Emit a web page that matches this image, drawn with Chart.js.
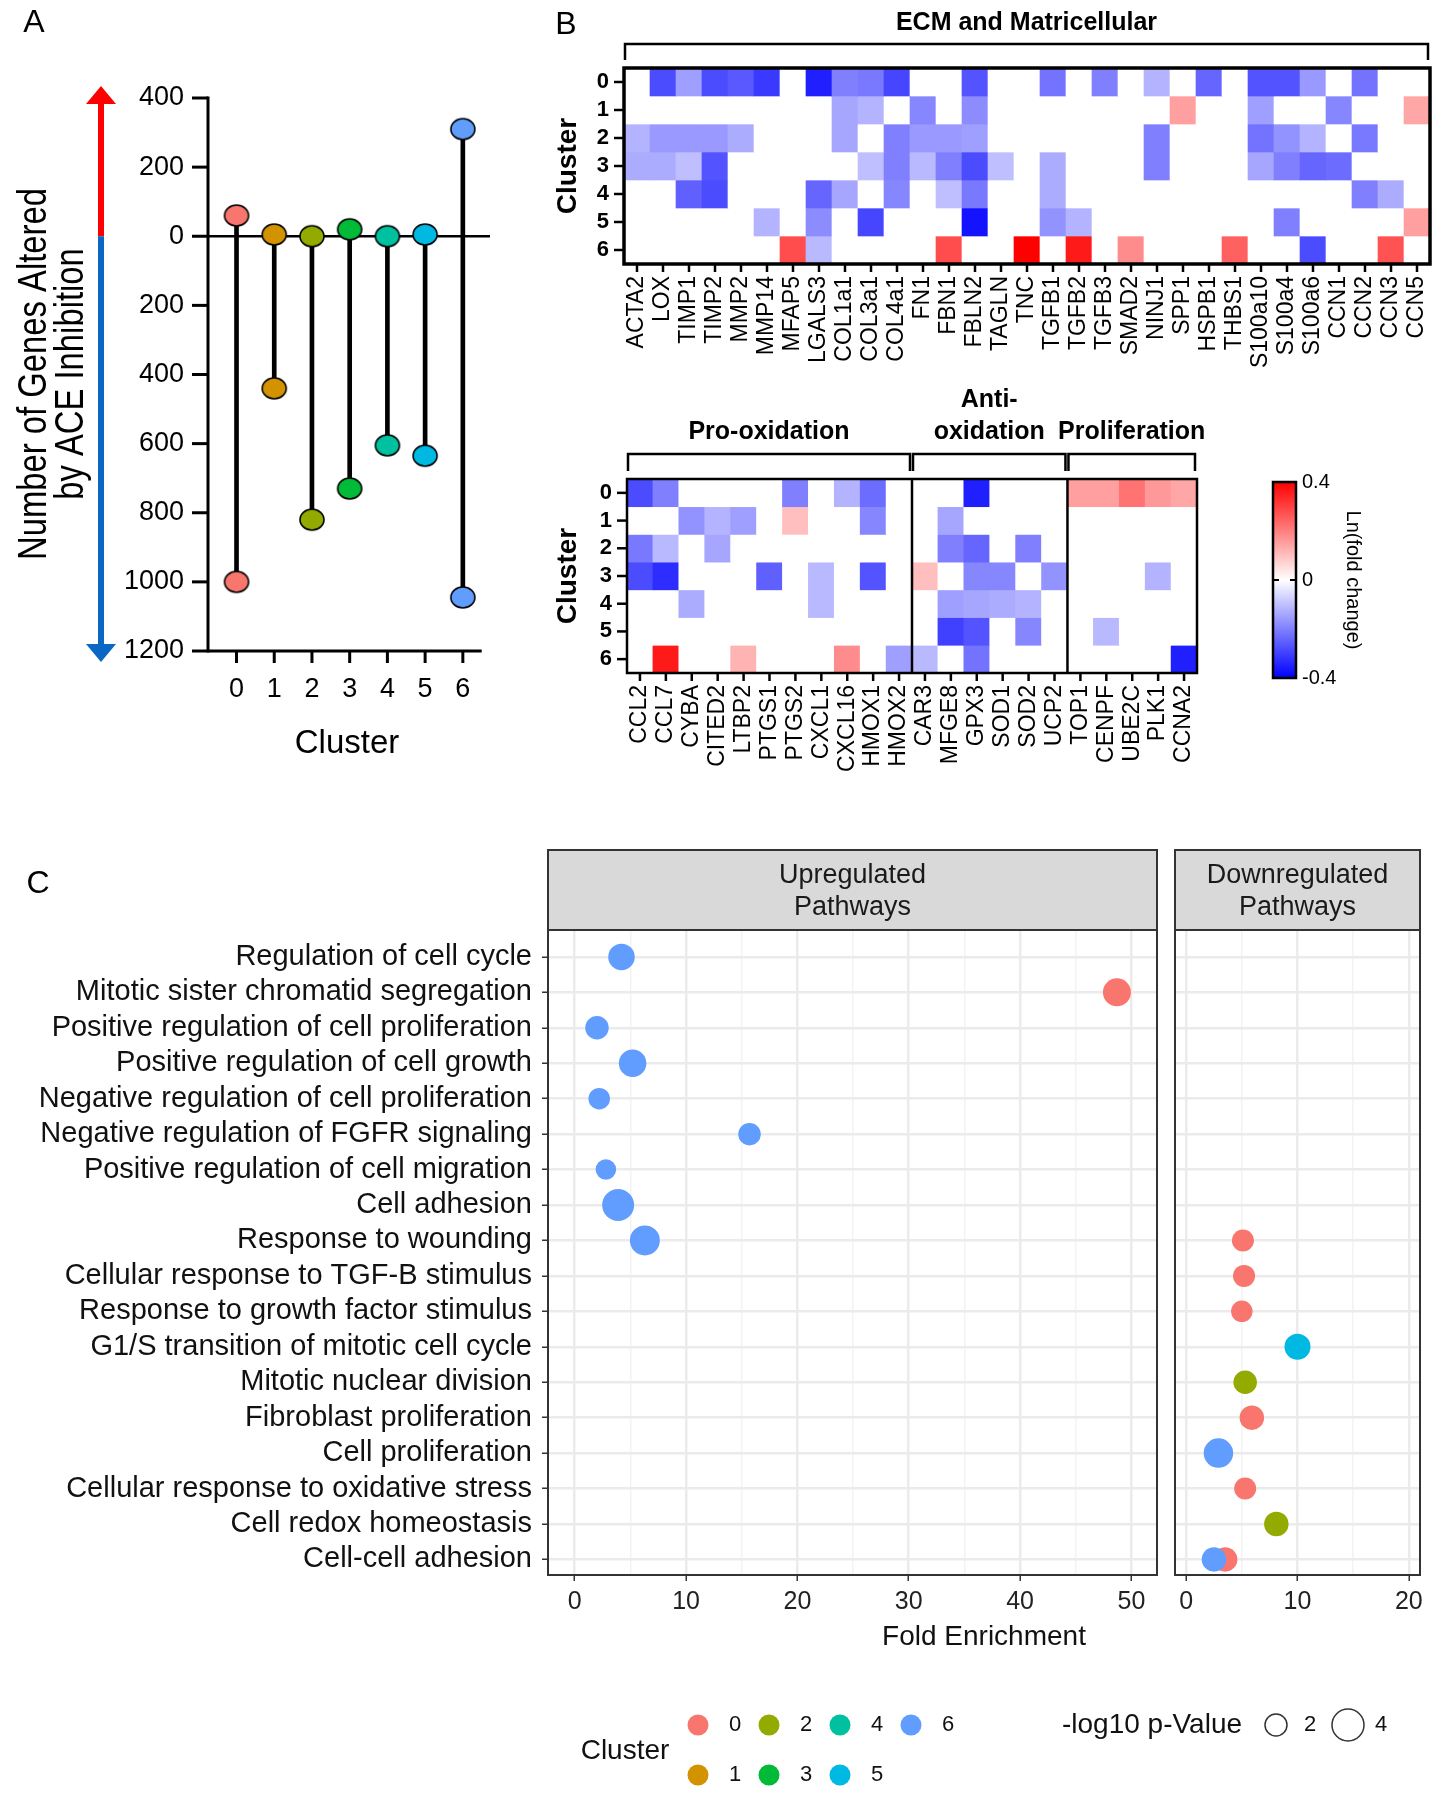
<!DOCTYPE html>
<html><head><meta charset="utf-8">
<script src="https://cdn.jsdelivr.net/npm/chart.js@4.4.1/dist/chart.umd.min.js"></script>
<style>
html,body{margin:0;padding:0;background:#fff;}
body{width:1448px;height:1800px;position:relative;overflow:hidden;}
canvas{position:absolute;}
</style></head><body>
<canvas id="cA" width="530" height="790" style="left:0px;top:0px;width:530px;height:790px"></canvas>
<canvas id="cB1" width="908" height="390" style="left:540px;top:0px;width:908px;height:390px"></canvas>
<canvas id="cB2" width="700" height="400" style="left:540px;top:380px;width:700px;height:400px"></canvas>
<canvas id="cCB" width="208" height="290" style="left:1240px;top:440px;width:208px;height:290px"></canvas>
<canvas id="cC1" width="1448" height="960" style="left:0px;top:840px;width:1448px;height:960px"></canvas>
<canvas id="cC2" width="283" height="830" style="left:1165px;top:840px;width:283px;height:830px"></canvas>
<script>
// ---------------- DATA ----------------
const clusterLabels = ['0','1','2','3','4','5','6'];
const clusterColors = ['#F8766D','#D39200','#93AA00','#00BA38','#00C19F','#00B9E3','#619CFF'];

// Panel A: number of genes up / down per cluster
const genesUp   = [60, 5, 0, 20, 0, 5, 310];
const genesDown = [1000, 440, 820, 730, 605, 635, 1045];
const aTicks = [400, 200, 0, -200, -400, -600, -800, -1000, -1200];

// Panel B top heatmap
const ecmGenes = ['ACTA2','LOX','TIMP1','TIMP2','MMP2','MMP14','MFAP5','LGALS3','COL1a1','COL3a1','COL4a1','FN1','FBN1','FBLN2','TAGLN','TNC','TGFB1','TGFB2','TGFB3','SMAD2','NINJ1','SPP1','HSPB1','THBS1','S100a10','S100a4','S100a6','CCN1','CCN2','CCN3','CCN5'];
const ecmRow0 = [0,-0.28,-0.15,-0.28,-0.26,-0.31,0,-0.35,-0.2,-0.21,-0.29,0,0,-0.27,0,0,-0.22,0,-0.2,0,-0.12,0,-0.24,0,-0.27,-0.27,-0.16,0,-0.22,0,0];
const ecmRow1 = [0,0,0,0,0,0,0,0,-0.14,-0.12,0,-0.19,0,-0.18,0,0,0,0,0,0,0,0.15,0,0,-0.15,0,0,-0.19,0,0,0.14];
const ecmRow2 = [-0.12,-0.16,-0.16,-0.16,-0.13,0,0,0,-0.14,0,-0.2,-0.16,-0.16,-0.15,0,0,0,0,0,0,-0.2,0,0,0,-0.22,-0.17,-0.12,0,-0.21,0,0];
const ecmRow3 = [-0.13,-0.13,-0.1,-0.27,0,0,0,0,0,-0.1,-0.2,-0.11,-0.2,-0.28,-0.1,0,-0.13,0,0,0,-0.2,0,0,0,-0.14,-0.2,-0.24,-0.23,0,0,0];
const ecmRow4 = [0,0,-0.25,-0.28,0,0,0,-0.24,-0.14,0,-0.19,0,-0.1,-0.21,0,0,-0.13,0,0,0,0,0,0,0,0,0,0,0,-0.2,-0.13,0];
const ecmRow5 = [0,0,0,0,0,-0.12,0,-0.18,0,-0.29,0,0,0,-0.37,0,0,-0.17,-0.12,0,0,0,0,0,0,0,-0.2,0,0,0,0,0.15];
const ecmRow6 = [0,0,0,0,0,0,0.28,-0.11,0,0,0,0,0.28,0,0,0.4,0,0.36,0,0.18,0,0,0,0.25,0,0,-0.28,0,0,0.27,0];
const ecmValues = [ecmRow0, ecmRow1, ecmRow2, ecmRow3, ecmRow4, ecmRow5, ecmRow6];

// Panel B bottom heatmap
const proGenes = ['CCL2','CCL7','CYBA','CITED2','LTBP2','PTGS1','PTGS2','CXCL1','CXCL16','HMOX1','HMOX2'];
const antiGenes = ['CAR3','MFGE8','GPX3','SOD1','SOD2','UCP2'];
const prolifGenes = ['TOP1','CENPF','UBE2C','PLK1','CCNA2'];
const oxRow0 = [-0.28,-0.2,0,0,0,0,-0.2,0,-0.12,-0.23,0, 0,0,-0.35,0,0,0, 0.15,0.15,0.22,0.16,0.14];
const oxRow1 = [0,0,-0.17,-0.12,-0.15,0,0.1,0,0,-0.19,0, 0,-0.14,0,0,0,0, 0,0,0,0,0];
const oxRow2 = [-0.21,-0.11,0,-0.14,0,0,0,0,0,0,0, 0,-0.2,-0.24,0,-0.2,0, 0,0,0,0,0];
const oxRow3 = [-0.28,-0.33,0,0,0,-0.25,0,-0.11,0,-0.27,0, 0.1,0,-0.19,-0.19,0,-0.17, 0,0,0,-0.12,0];
const oxRow4 = [0,0,-0.13,0,0,0,0,-0.11,0,0,0, 0,-0.15,-0.14,-0.13,-0.12,0, 0,0,0,0,0];
const oxRow5 = [0,0,0,0,0,0,0,0,0,0,0, 0,-0.3,-0.27,0,-0.19,0, 0,-0.11,0,0,0];
const oxRow6 = [0,0.36,0,0,0.12,0,0,0,0.18,0,-0.15, -0.11,0,-0.22,0,0,0, 0,0,0,0,-0.35];
const oxValues = [oxRow0, oxRow1, oxRow2, oxRow3, oxRow4, oxRow5, oxRow6];

const cbRange = [-0.4, 0.4];
const cbTicks = [-0.4, 0, 0.4];

// Panel C
const pathways = ['Regulation of cell cycle','Mitotic sister chromatid segregation','Positive regulation of cell proliferation','Positive regulation of cell growth','Negative regulation of cell proliferation','Negative regulation of FGFR signaling','Positive regulation of cell migration','Cell adhesion','Response to wounding','Cellular response to TGF-B stimulus','Response to growth factor stimulus','G1/S transition of mitotic cell cycle','Mitotic nuclear division','Fibroblast proliferation','Cell proliferation','Cellular response to oxidative stress','Cell redox homeostasis','Cell-cell adhesion'];
const upPathway = ['Regulation of cell cycle','Mitotic sister chromatid segregation','Positive regulation of cell proliferation','Positive regulation of cell growth','Negative regulation of cell proliferation','Negative regulation of FGFR signaling','Positive regulation of cell migration','Cell adhesion','Response to wounding'];
const upFold    = [4.2, 48.7, 2.0, 5.2, 2.2, 15.7, 2.8, 3.9, 6.3];
const upCluster = [6, 0, 6, 6, 6, 6, 6, 6, 6];
const upLogP    = [2.9, 3.2, 2.3, 3.1, 1.9, 2.1, 1.7, 4.0, 3.6];
const downPathway = ['Response to wounding','Cellular response to TGF-B stimulus','Response to growth factor stimulus','G1/S transition of mitotic cell cycle','Mitotic nuclear division','Fibroblast proliferation','Cell proliferation','Cellular response to oxidative stress','Cell redox homeostasis','Cell-cell adhesion','Cell-cell adhesion'];
const downFold    = [5.1, 5.2, 5.0, 10.0, 5.3, 5.9, 2.9, 5.3, 8.1, 3.5, 2.5];
const downCluster = [0, 0, 0, 5, 2, 0, 6, 0, 2, 0, 6];
const downLogP    = [2.0, 2.0, 1.9, 2.8, 2.3, 2.5, 3.5, 2.0, 2.5, 2.5, 2.5];
const sizeBreaks = [2, 4];
const upTicks = [0,5,10,15,20,25,30,35,40,45,50];
const downTicks = [0,5,10,15,20];

// ---------------- HELPERS ----------------
const FONT = "'Liberation Sans', Arial, Helvetica, sans-serif";
Chart.defaults.font.family = FONT;
Chart.defaults.color = '#000';
Chart.defaults.animation = false;
Chart.defaults.plugins.legend.display = false;
Chart.defaults.plugins.tooltip.enabled = false;

function line(ctx, x1, y1, x2, y2){ ctx.beginPath(); ctx.moveTo(x1,y1); ctx.lineTo(x2,y2); ctx.stroke(); }
function rad(p){ return 6 + 2.5 * p; }
function fixX(h){ return s => { s.height = h; s.paddingLeft = 0; s.paddingRight = 0; }; }
function heatColor(v){
  const t = Math.min(1, Math.abs(v) / 0.4);
  const k = Math.round(255 * (1 - t));
  if (v < 0) return 'rgb(' + k + ',' + k + ',255)';
  if (v > 0) return 'rgb(255,' + k + ',' + k + ')';
  return '#ffffff';
}
function heatDatasets(rows){
  return rows.map((vals, r) => ({
    type: 'bar', data: vals.map(() => [r - 0.5, r + 0.5]),
    backgroundColor: vals.map(heatColor), grouped: false,
    barPercentage: 1, categoryPercentage: 1, borderWidth: 0
  }));
}
function ellipseImg(color){
  const w = 24, h = 21;
  const c = document.createElement('canvas'); c.width = w + 4; c.height = h + 4;
  const x = c.getContext('2d');
  x.beginPath(); x.ellipse(c.width/2, c.height/2, w/2, h/2, 0, 0, Math.PI*2);
  x.fillStyle = color; x.fill(); x.lineWidth = 1.6; x.strokeStyle = '#000'; x.stroke();
  return c;
}

// ---------------- PANEL A ----------------
const aImgs = clusterColors.map(ellipseImg);
const plugA = {
  id: 'plugA',
  beforeDatasetsDraw(chart){
    const {ctx, chartArea: a, scales: {y}} = chart;
    const y0 = y.getPixelForValue(0);
    ctx.save(); ctx.strokeStyle = '#000'; ctx.lineWidth = 2.5;
    line(ctx, a.left, y0, a.right, y0); ctx.restore();
  },
  afterDraw(chart){
    const {ctx, chartArea: a, scales: {x, y}} = chart;
    ctx.save();
    ctx.strokeStyle = '#000'; ctx.lineWidth = 3;
    line(ctx, a.left, a.top - 1.5, a.left, a.bottom + 1.5);
    line(ctx, a.left, a.bottom, x.getPixelForValue(6.5), a.bottom);
    aTicks.forEach(v => { const py = y.getPixelForValue(v); line(ctx, a.left - 16, py, a.left, py); });
    clusterLabels.forEach((c, i) => { const px = x.getPixelForValue(i); line(ctx, px, a.bottom, px, a.bottom + 12); });
    // arrow
    const ax = 101, y0 = y.getPixelForValue(0), yt = a.top - 12, yb = a.bottom + 11;
    ctx.lineWidth = 6;
    ctx.strokeStyle = '#ff0000'; line(ctx, ax, yt + 14, ax, y0);
    ctx.fillStyle = '#ff0000'; ctx.beginPath(); ctx.moveTo(ax, yt); ctx.lineTo(ax - 15, yt + 18); ctx.lineTo(ax + 15, yt + 18); ctx.closePath(); ctx.fill();
    ctx.strokeStyle = '#0a68c4'; line(ctx, ax, y0, ax, yb - 14);
    ctx.fillStyle = '#0a68c4'; ctx.beginPath(); ctx.moveTo(ax, yb); ctx.lineTo(ax - 15, yb - 18); ctx.lineTo(ax + 15, yb - 18); ctx.closePath(); ctx.fill();
    // titles
    ctx.fillStyle = '#000'; ctx.textAlign = 'center'; ctx.textBaseline = 'alphabetic';
    [['Number of Genes Altered', 46], ['by ACE Inhibition', 83]].forEach(([t, bx]) => {
      ctx.save(); ctx.translate(bx, 374); ctx.rotate(-Math.PI/2); ctx.scale(0.82, 1);
      ctx.font = '40px ' + FONT; ctx.fillText(t, 0, 0); ctx.restore();
    });
    ctx.textBaseline = 'middle';
    ctx.font = '33px ' + FONT; ctx.fillText('Cluster', 347, 744);
    ctx.font = '32px ' + FONT; ctx.fillText('A', 34, 23);
    ctx.restore();
  }
};
new Chart(document.getElementById('cA'), {
  data: {
    datasets: [
      { type: 'bar', data: clusterLabels.map((c, i) => ({x: i, y: [-genesDown[i], genesUp[i]]})),
        backgroundColor: '#000', barThickness: 4, order: 2 },
      { type: 'scatter', data: clusterLabels.map((c, i) => ({x: i, y: genesUp[i]})),
        pointStyle: aImgs, pointRadius: 10, order: 1 },
      { type: 'scatter', data: clusterLabels.map((c, i) => ({x: i, y: -genesDown[i]})),
        pointStyle: aImgs, pointRadius: 10, order: 1 }
    ]
  },
  options: {
    responsive: false,
    layout: {padding: {left: 0, right: 40, top: 98, bottom: 0}, autoPadding: false},
    scales: {
      x: { type: 'linear', min: -0.756, max: 6.72, offset: false,
        afterBuildTicks: s => { s.ticks = clusterLabels.map((c, i) => ({value: i})); },
        ticks: { callback: v => clusterLabels[v], font: {size: 27}, padding: 22, autoSkip: false, maxRotation: 0 },
        grid: {display: false, drawTicks: false, offset: false}, border: {display: false},
        afterFit: fixX(139) },
      y: { type: 'linear', min: -1200, max: 400,
        afterBuildTicks: s => { s.ticks = aTicks.map(v => ({value: v})); },
        ticks: { callback: v => String(Math.abs(v)), font: {size: 27}, padding: 24, autoSkip: false },
        grid: {display: false, drawTicks: false}, border: {display: false},
        afterFit: s => { s.width = 208; } }
    }
  },
  plugins: [plugA]
});

// ---------------- PANEL B ----------------
function heatPlugin(cfg){
  return {
    id: 'heat' + cfg.id,
    afterDraw(chart){
      const {ctx, chartArea: a, scales: {x, y}} = chart;
      const n = x.getLabels().length;
      const w = (a.right - a.left) / n;
      ctx.save(); ctx.strokeStyle = '#000'; ctx.fillStyle = '#000';
      ctx.lineWidth = 2.5;
      for (let j = 0; j < n; j++){ const px = x.getPixelForValue(j); line(ctx, px, a.bottom, px, a.bottom + 8); }
      clusterLabels.forEach((c, r) => { const py = y.getPixelForValue(r); line(ctx, a.left - 10, py, a.left, py); });
      cfg.groups.forEach((g, gi) => { if (gi > 0){ const px = a.left + g.start * w; line(ctx, px, a.top, px, a.bottom); } });
      ctx.lineWidth = cfg.border;
      ctx.strokeRect(a.left, a.top, a.right - a.left, a.bottom - a.top);
      ctx.lineWidth = 2.5;
      ctx.textAlign = 'center'; ctx.textBaseline = 'middle';
      ctx.font = 'bold 25px ' + FONT;
      cfg.groups.forEach(g => {
        const x1 = a.left + g.start * w + 1, x2 = a.left + g.end * w - 2;
        ctx.beginPath(); ctx.moveTo(x1, cfg.tickBottom); ctx.lineTo(x1, cfg.bracketY); ctx.lineTo(x2, cfg.bracketY); ctx.lineTo(x2, cfg.tickBottom); ctx.stroke();
        const cx = (x1 + x2) / 2;
        g.name.forEach((t, k) => { ctx.fillText(t, cx, cfg.titleY - (g.name.length - 1 - k) * 32); });
      });
      ctx.save(); ctx.translate(28, (a.top + a.bottom) / 2); ctx.rotate(-Math.PI/2);
      ctx.font = 'bold 28px ' + FONT; ctx.fillText('Cluster', 0, 0); ctx.restore();
      if (cfg.letter){ ctx.font = '32px ' + FONT; ctx.fillText(cfg.letter, 26, 25); }
      ctx.restore();
    }
  };
}
function heatOptions(padding, xHeight, yWidth){
  return {
    responsive: false,
    layout: {padding: padding, autoPadding: false},
    scales: {
      x: { type: 'category', offset: true,
        ticks: {autoSkip: false, minRotation: 90, maxRotation: 90, font: {size: 23}, padding: 12},
        grid: {display: false, drawTicks: false}, border: {display: false},
        afterFit: fixX(xHeight) },
      y: { type: 'linear', min: -0.5, max: 6.5, reverse: true,
        afterBuildTicks: s => { s.ticks = clusterLabels.map((c, i) => ({value: i})); },
        ticks: {callback: v => clusterLabels[v], font: {size: 22, weight: 'bold'}, padding: 15, autoSkip: false},
        grid: {display: false, drawTicks: false}, border: {display: false},
        afterFit: s => { s.width = yWidth; s.paddingTop = 0; s.paddingBottom = 0; } }
    }
  };
}
new Chart(document.getElementById('cB1'), {
  data: { labels: ecmGenes, datasets: heatDatasets(ecmValues) },
  options: heatOptions({left: 0, right: 18, top: 68, bottom: 0}, 126, 84),
  plugins: [heatPlugin({id: 1, border: 3.5, bracketY: 44, tickBottom: 60, titleY: 23, letter: 'B',
    groups: [{name: ['ECM and Matricellular'], start: 0, end: ecmGenes.length}]})]
});
const oxGenes = proGenes.concat(antiGenes, prolifGenes);
new Chart(document.getElementById('cB2'), {
  data: { labels: oxGenes, datasets: heatDatasets(oxValues) },
  options: heatOptions({left: 0, right: 43, top: 99, bottom: 0}, 107, 87),
  plugins: [heatPlugin({id: 2, border: 2.5, bracketY: 74, tickBottom: 91, titleY: 52, letter: null,
    groups: [
      {name: ['Pro-oxidation'], start: 0, end: proGenes.length},
      {name: ['Anti-', 'oxidation'], start: proGenes.length, end: proGenes.length + antiGenes.length},
      {name: ['Proliferation'], start: proGenes.length + antiGenes.length, end: oxGenes.length}
    ]})]
});

// colour bar
const plugCB = {
  id: 'plugCB',
  afterDraw(chart){
    const {ctx, chartArea: a, scales: {y}} = chart;
    ctx.save(); ctx.strokeStyle = '#000';
    const y0 = y.getPixelForValue(0);
    ctx.lineWidth = 2;
    line(ctx, a.left, y0, a.left + 6, y0); line(ctx, a.right - 6, y0, a.right, y0);
    ctx.lineWidth = 2.5;
    ctx.strokeRect(a.left, a.top, a.right - a.left, a.bottom - a.top);
    ctx.fillStyle = '#000'; ctx.textAlign = 'center'; ctx.textBaseline = 'middle';
    ctx.translate(113, 140); ctx.rotate(Math.PI/2);
    ctx.font = '20px ' + FONT; ctx.fillText('Ln(fold change)', 0, 0);
    ctx.restore();
  }
};
new Chart(document.getElementById('cCB'), {
  type: 'bar',
  data: { labels: ['Ln(fold change)'], datasets: [{
    data: [cbRange], barPercentage: 1, categoryPercentage: 1, borderWidth: 0,
    backgroundColor: (c) => {
      const ch = c.chart; const ys = ch.scales.y;
      if (!ch.chartArea || !ys) return '#fff';
      const g = ch.ctx.createLinearGradient(0, ys.getPixelForValue(cbRange[0]), 0, ys.getPixelForValue(cbRange[1]));
      g.addColorStop(0, '#0000ff'); g.addColorStop(0.5, '#ffffff'); g.addColorStop(1, '#ff0000');
      return g;
    }
  }]},
  options: {
    responsive: false,
    layout: {padding: {left: 33, right: 0, top: 42, bottom: 52}, autoPadding: false},
    scales: {
      x: {display: false},
      y: { position: 'right', min: cbRange[0], max: cbRange[1],
        afterBuildTicks: s => { s.ticks = cbTicks.map(v => ({value: v})); },
        ticks: {callback: v => (v === 0 ? '0' : v.toFixed(1)), font: {size: 20}, padding: 6},
        grid: {display: false, drawTicks: false}, border: {display: false},
        afterFit: s => { s.width = 152; s.paddingTop = 0; s.paddingBottom = 0; } }
    }
  },
  plugins: [plugCB]
});

// ---------------- PANEL C ----------------
function dotDatasets(names, fold, cl, lp){
  const ds = [];
  clusterLabels.forEach((c, ci) => {
    const pts = [];
    names.forEach((nm, i) => { if (cl[i] === ci) pts.push({x: fold[i], y: pathways.indexOf(nm), p: lp[i]}); });
    if (pts.length) ds.push({ type: 'scatter', data: pts, order: 6 - ci,
      backgroundColor: clusterColors[ci], borderWidth: 0,
      pointRadius: (ctx) => (ctx.raw ? rad(ctx.raw.p) : 0) });
  });
  return ds;
}
const stripTitles = [['Upregulated', 'Pathways'], ['Downregulated', 'Pathways']];
function drawStrip(ctx, a, lines){
  ctx.fillStyle = '#d9d9d9'; ctx.fillRect(a.left, 10, a.right - a.left, 80);
  ctx.strokeStyle = '#333'; ctx.lineWidth = 2; ctx.strokeRect(a.left, 10, a.right - a.left, 80);
  ctx.strokeRect(a.left, a.top, a.right - a.left, a.bottom - a.top);
  ctx.fillStyle = '#1a1a1a'; ctx.font = '27px ' + FONT; ctx.textAlign = 'center'; ctx.textBaseline = 'middle';
  ctx.fillText(lines[0], (a.left + a.right) / 2, 36);
  ctx.fillText(lines[1], (a.left + a.right) / 2, 68);
}
function xGrid(ctx){ return ctx.tick && ctx.tick.value % 10 === 0; }
function dotOptions(xmin, xmax, ticksArr, padding, yWidth, xHeight, showY){
  return {
    responsive: false,
    layout: {padding: padding, autoPadding: false},
    scales: {
      x: { type: 'linear', min: xmin, max: xmax,
        afterBuildTicks: s => { s.ticks = ticksArr.map(v => ({value: v})); },
        ticks: {callback: v => (v % 10 === 0 ? String(v) : ''), font: {size: 25}, color: '#222', padding: 6, autoSkip: false, maxRotation: 0},
        grid: { color: c => (xGrid(c) ? '#ebebeb' : '#f3f3f3'), lineWidth: c => (xGrid(c) ? 2.5 : 1.5),
          drawTicks: true, tickLength: 6, tickWidth: 1.5, tickColor: c => (xGrid(c) ? '#333' : 'rgba(0,0,0,0)') },
        border: {display: false},
        afterFit: fixX(xHeight) },
      y: { type: 'linear', min: -0.76, max: pathways.length - 0.56, reverse: true,
        afterBuildTicks: s => { s.ticks = pathways.map((p, i) => ({value: i})); },
        ticks: {display: showY, callback: v => pathways[v], font: {size: 29}, color: '#111', padding: 10, autoSkip: false},
        grid: {color: '#ebebeb', lineWidth: 2.5, drawTicks: showY, tickLength: 6, tickWidth: 1.5, tickColor: '#333'},
        border: {display: false},
        afterFit: s => { s.width = yWidth; s.paddingTop = 0; s.paddingBottom = 0; } }
    }
  };
}
const plugC1 = {
  id: 'plugC1',
  afterDraw(chart){
    const {ctx, chartArea: a} = chart;
    ctx.save();
    drawStrip(ctx, a, stripTitles[0]);
    ctx.fillStyle = '#000'; ctx.textAlign = 'center'; ctx.textBaseline = 'middle';
    ctx.font = '32px ' + FONT; ctx.fillText('C', 38, 44);
    ctx.fillStyle = '#111'; ctx.font = '28px ' + FONT; ctx.fillText('Fold Enrichment', 984, 797);
    // legend: cluster colours
    ctx.fillText('Cluster', 625, 911);
    clusterLabels.forEach((c, i) => {
      const col = Math.floor(i / 2), row = i % 2;
      const cx = 698 + col * 71, cy = 885 + row * 50;
      ctx.fillStyle = clusterColors[i]; ctx.beginPath(); ctx.arc(cx, cy, 10.5, 0, Math.PI * 2); ctx.fill();
      ctx.fillStyle = '#111'; ctx.font = '22px ' + FONT; ctx.fillText(c, cx + 37, cy);
    });
    // legend: size
    ctx.font = '28px ' + FONT; ctx.fillText('-log10 p-Value', 1152, 885);
    const sx = [1276, 1348], lx = [1310, 1381];
    sizeBreaks.forEach((b, i) => {
      ctx.strokeStyle = '#333'; ctx.lineWidth = 1.5;
      ctx.beginPath(); ctx.arc(sx[i], 885, rad(b), 0, Math.PI * 2); ctx.stroke();
      ctx.fillStyle = '#111'; ctx.font = '22px ' + FONT; ctx.fillText(String(b), lx[i], 885);
    });
    ctx.restore();
  }
};
const plugC2 = {
  id: 'plugC2',
  afterDraw(chart){ const {ctx, chartArea: a} = chart; ctx.save(); drawStrip(ctx, a, stripTitles[1]); ctx.restore(); }
};
new Chart(document.getElementById('cC1'), {
  data: { datasets: dotDatasets(upPathway, upFold, upCluster, upLogP) },
  options: dotOptions(-2.4, 52.3, upTicks, {left: 0, right: 291, top: 90, bottom: 0}, 548, 225, true),
  plugins: [plugC1]
});
new Chart(document.getElementById('cC2'), {
  data: { datasets: dotDatasets(downPathway, downFold, downCluster, downLogP) },
  options: dotOptions(-1, 21, downTicks, {left: 10, right: 28, top: 90, bottom: 0}, 0, 95, false),
  plugins: [plugC2]
});
</script>
</body></html>
